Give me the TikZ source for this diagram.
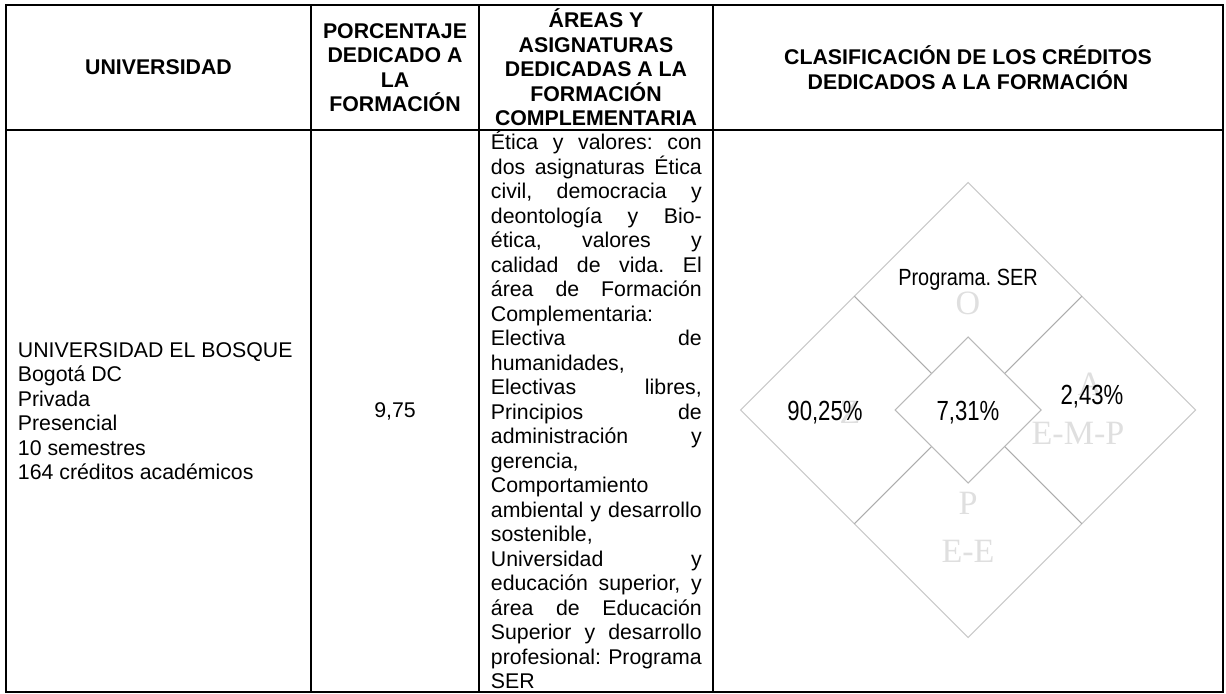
\documentclass[tikz,border=0pt]{standalone}
\usepackage{fontspec}
\setmainfont{Liberation Sans}
\newfontfamily\serifw{Liberation Serif}
\newfontfamily\narrowf[FakeStretch=0.85]{Liberation Sans}
\newfontfamily\narrowg[FakeStretch=0.8]{Liberation Sans}
\usetikzlibrary{positioning}
\frenchspacing

\newlength\areaw
\setlength\areaw{99pt}
\newcommand\jl[1]{\makebox[\areaw][s]{#1}}

\tikzset{
  hdr/.style={font=\fontsize{10}{11.5}\selectfont\bfseries, align=center, inner sep=0pt},
  cell/.style={font=\fontsize{10}{11.5}\selectfont, inner sep=0pt},
  faint/.style={font=\serifw\fontsize{16}{19}\selectfont, text=gray!25, inner sep=0pt},
  pct/.style={font=\narrowg\fontsize{13}{15}\selectfont, inner sep=0pt},
  tabline/.style={line width=0.75pt},
  dline/.style={draw=gray!42, line width=0.5pt},
  iline/.style={draw=gray!65, line width=0.5pt},
}

\begin{document}
\begin{tikzpicture}[x=0.4695pt, y=-0.4695pt]
      \useasboundingbox (0,0) rectangle (1226,694);

      % Tabla
      \draw[tabline] (6,5) rectangle (1223,692);
      \draw[tabline] (6,130) -- (1223,130);
      \foreach \xc in {311,479,713}
        \draw[tabline] (\xc,5) -- (\xc,692);

      % Encabezados
      \node[hdr] (hUni) at (158.5,67.5) {UNIVERSIDAD};
      \node[hdr] (hPor) at (395,67.5) {PORCENTAJE\\DEDICADO A\\LA\\FORMACIÓN};
      \node[hdr] (hAre) at (596,67.5) {ÁREAS Y\\ASIGNATURAS\\DEDICADAS A LA\\FORMACIÓN\\COMPLEMENTARIA};
      \node[hdr] (hCla) at (968,67.5) {CLASIFICACIÓN DE LOS CRÉDITOS\\DEDICADOS A LA FORMACIÓN};

      % Fila
      \node[cell, anchor=west, align=left] (uni) at (17.5,411)
        {UNIVERSIDAD EL BOSQUE\\Bogotá DC\\Privada\\Presencial\\10 semestres\\164 créditos académicos};
      \node[cell] (por) at (395,411) {9,75};
      \node[cell, anchor=north west, align=left] (areas) at (490.5,131)
        {\jl{Ética y valores: con}\\\jl{dos asignaturas Ética}\\\jl{civil, democracia y}\\
         \jl{deontología y Bio-}\\\jl{ética, valores y}\\\jl{calidad de vida. El}\\
         \jl{área de Formación}\\Complementaria:\\\jl{Electiva de}\\humanidades,\\
         \jl{Electivas libres,}\\\jl{Principios de}\\\jl{administración y}\\gerencia,\\
         Comportamiento\\\jl{ambiental y desarrollo}\\sostenible,\\\jl{Universidad y}\\
         \jl{educación superior, y}\\\jl{área de Educación}\\\jl{Superior y desarrollo}\\
         \jl{profesional: Programa}\\SER};

      % Rombo: letras de fondo
      \node[faint] (lO) at (968,303) {O};
      \node[faint] (lZ) at (850,412) {Z};
      \node[faint] (lA) at (1090,384) {A};
      \node[faint] (lEMP) at (1078,433) {E-M-P};
      \node[faint] (lP) at (968,503) {P};
      \node[faint] (lEE) at (968,551) {E-E};

      % Rombo: lineas
      \draw[dline] (968,182.5) -- (1195.5,410) -- (968,637.5) -- (740.5,410) -- cycle;
      \draw[iline] (854.25,296.25) -- (1081.75,523.75);
      \draw[iline] (1081.75,296.25) -- (854.25,523.75);
      \filldraw[fill=white, draw=gray!55, line width=0.5pt]
        (968,337) -- (1041,410) -- (968,483) -- (895,410) -- cycle;

      % Rombo: valores
      \node[pct, font=\narrowf\fontsize{11}{13}\selectfont] (pSer) at (968,280) {Programa. SER};
      \node[pct] (pZ) at (825,413) {90,25\%};
      \node[pct] (pC) at (968,413) {7,31\%};
      \node[pct] (pA) at (1092,397) {2,43\%};
\end{tikzpicture}
\end{document}
